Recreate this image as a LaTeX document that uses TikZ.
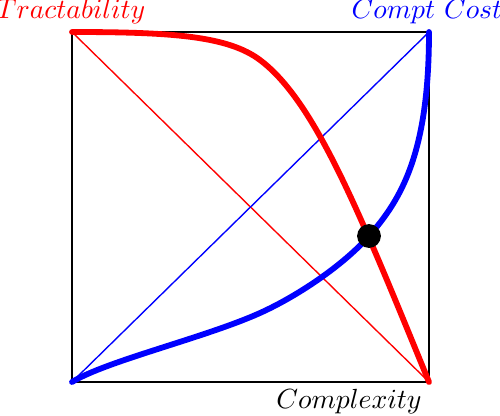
\documentclass[tikz,border=0pt]{standalone}
\usepackage{xcolor}
\usetikzlibrary{positioning}

\begin{document}
\begin{tikzpicture}[
    x=0.0127cm, y=-0.0127cm,
    frame/.style={draw=black, line width=0.75pt},
    guide/.style={line width=0.5pt},
    curve/.style={line width=2.1pt, line join=round, line cap=round},
    marker/.style={circle, fill=black, inner sep=0pt, minimum size=8.6pt},
    axislabel/.style={anchor=base, inner sep=0pt, font=\fontsize{9.7}{11}\selectfont}
]
    \useasboundingbox (0,0) rectangle (500,416);

    % Corners of the square.
    \coordinate (tl) at (72,32);
    \coordinate (tr) at (429,32);
    \coordinate (bl) at (72,382);
    \coordinate (br) at (429,382);
    \draw[frame] (bl) rectangle (tr);

    % Straight reference diagonals.
    \draw[guide, red] (tl) -- (br);
    \draw[guide, blue] (bl) -- (tr);

    % The two trade-off curves meet at the marker.
    \coordinate (meet) at (369,236);
    \draw[curve, red] (tl) .. controls (172,32) and (228,36) .. (260,60)
        .. controls (316,102) and (360.6,215.5) .. (br);
    \draw[curve, blue] (bl) .. controls (106,361) and (205.4,337.6) .. (260,313)
        .. controls (296.4,296.6) and (342.6,266) .. (meet)
        .. controls (402,198.5) and (429,152) .. (tr);

    \node[marker] (cross) at (meet) {};

    \node[axislabel, text=red] (tract) at (71,18.5) {$Tractability$};
    \node[axislabel, text=blue] (cost) at (427,18.5) {$Compt\ Cost$};
    \node[axislabel] (complex) at (349,408) {$Complexity$};

\end{tikzpicture}
\end{document}
